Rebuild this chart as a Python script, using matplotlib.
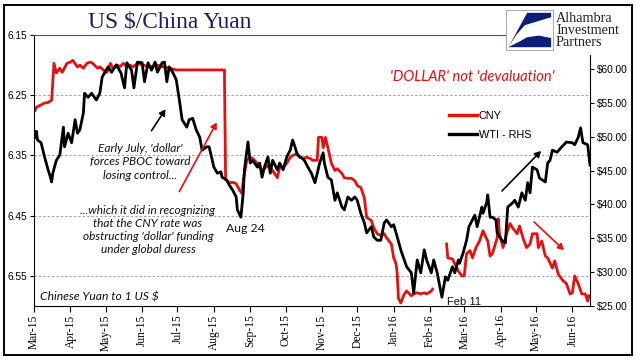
import numpy as np
import pandas as pd
import matplotlib
matplotlib.use("Agg")
import matplotlib.pyplot as plt
import matplotlib.dates as mdates
from matplotlib.patches import Rectangle, Polygon
from matplotlib.lines import Line2D

# ---------------- data ----------------
wti_dates = [
    "2015-03-02", "2015-03-03", "2015-03-04", "2015-03-07", "2015-03-10", "2015-03-13", "2015-03-15",
    "2015-03-16", "2015-03-17", "2015-03-20", "2015-03-23", "2015-03-26", "2015-03-27", "2015-03-30",
    "2015-04-02", "2015-04-05", "2015-04-07", "2015-04-09", "2015-04-12", "2015-04-13", "2015-04-16",
    "2015-04-19", "2015-04-23", "2015-04-26", "2015-04-28", "2015-04-30", "2015-05-03", "2015-05-06",
    "2015-05-10", "2015-05-14", "2015-05-17", "2015-05-19", "2015-05-23", "2015-05-25", "2015-05-28",
    "2015-06-01", "2015-06-03", "2015-06-06", "2015-06-09", "2015-06-12", "2015-06-14", "2015-06-18",
    "2015-06-20", "2015-06-22", "2015-06-24", "2015-06-27", "2015-06-30", "2015-07-03", "2015-07-05",
    "2015-07-09", "2015-07-11", "2015-07-14", "2015-07-17", "2015-07-20", "2015-07-22", "2015-07-26",
    "2015-07-28", "2015-07-30", "2015-08-01", "2015-08-04", "2015-08-07", "2015-08-08", "2015-08-12",
    "2015-08-14", "2015-08-17", "2015-08-20", "2015-08-21", "2015-08-24", "2015-08-26", "2015-08-27",
    "2015-08-30", "2015-09-01", "2015-09-03", "2015-09-07", "2015-09-09", "2015-09-11", "2015-09-13",
    "2015-09-16", "2015-09-18", "2015-09-20", "2015-09-24", "2015-09-26", "2015-09-29", "2015-10-02",
    "2015-10-05", "2015-10-07", "2015-10-09", "2015-10-11", "2015-10-15", "2015-10-17", "2015-10-20",
    "2015-10-23", "2015-10-26", "2015-10-28", "2015-10-30", "2015-11-02", "2015-11-03", "2015-11-06",
    "2015-11-09", "2015-11-12", "2015-11-14", "2015-11-18", "2015-11-20", "2015-11-23", "2015-11-26",
    "2015-11-29", "2015-12-01", "2015-12-04", "2015-12-07", "2015-12-09", "2015-12-13", "2015-12-15",
    "2015-12-18", "2015-12-21", "2015-12-24", "2015-12-26", "2015-12-30", "2016-01-01", "2016-01-04",
    "2016-01-07", "2016-01-10", "2016-01-12", "2016-01-16", "2016-01-18", "2016-01-21", "2016-01-24",
    "2016-01-27", "2016-01-29", "2016-02-02", "2016-02-04", "2016-02-07", "2016-02-11", "2016-02-14",
    "2016-02-16", "2016-02-20", "2016-02-22", "2016-02-25", "2016-02-26", "2016-02-29", "2016-03-03",
    "2016-03-05", "2016-03-08", "2016-03-10", "2016-03-12", "2016-03-16", "2016-03-17", "2016-03-20",
    "2016-03-21", "2016-03-23", "2016-03-25", "2016-03-28", "2016-03-29", "2016-04-02", "2016-04-05",
    "2016-04-07", "2016-04-11", "2016-04-13", "2016-04-16", "2016-04-19", "2016-04-22", "2016-04-24",
    "2016-04-26", "2016-04-28", "2016-05-02", "2016-05-04", "2016-05-09", "2016-05-11", "2016-05-13",
    "2016-05-15", "2016-05-19", "2016-05-23", "2016-05-27", "2016-06-01", "2016-06-03", "2016-06-06",
    "2016-06-08", "2016-06-10", "2016-06-14", "2016-06-16",
]
wti_values = [
    49.9, 50.8, 49.5, 49.1, 47.0, 45.1, 44.0,
    43.3, 44.6, 46.5, 47.3, 51.4, 48.5, 50.5,
    49.1, 52.5, 50.5, 51.0, 53.5, 56.4, 55.8,
    56.4, 55.4, 56.4, 58.8, 59.4, 60.3, 59.5,
    60.6, 59.4, 57.2, 60.9, 59.8, 57.2, 61.0,
    60.9, 58.1, 60.9, 59.8, 61.0, 59.5, 60.9,
    61.0, 58.1, 60.3, 59.5, 58.4, 55.0, 52.5,
    51.4, 52.5, 52.7, 51.0, 49.9, 48.0, 48.5,
    48.5, 47.0, 45.5, 44.6, 44.8, 44.0, 43.6,
    42.9, 42.1, 41.1, 39.2, 38.1, 41.7, 45.1,
    49.2, 46.1, 46.5, 45.5, 46.1, 44.0, 45.5,
    47.0, 44.6, 46.5, 45.1, 46.1, 45.1, 47.0,
    48.0, 49.5, 48.5, 47.3, 46.8, 46.5, 45.5,
    44.6, 43.2, 44.6, 46.1, 47.6, 46.1, 44.0,
    43.6, 40.6, 41.7, 39.6, 39.2, 41.1, 40.6,
    41.1, 40.6, 38.7, 37.3, 35.8, 36.7, 35.2,
    34.7, 34.7, 37.3, 37.7, 36.7, 37.0, 35.2,
    33.3, 31.8, 30.8, 29.9, 26.9, 31.8, 29.9,
    33.3, 31.8, 29.9, 31.8, 29.9, 26.3, 29.3,
    28.8, 30.8, 29.9, 31.8, 31.3, 32.8, 34.7,
    36.7, 37.7, 38.4, 36.7, 39.6, 38.7, 40.2,
    41.4, 38.1, 38.1, 37.7, 35.8, 34.7, 34.3,
    39.6, 40.2, 40.6, 39.6, 41.7, 40.6, 43.2,
    41.7, 45.5, 45.1, 43.9, 43.3, 46.1, 46.5,
    48.0, 47.7, 48.5, 49.2, 49.1, 48.8, 49.9,
    51.3, 49.1, 48.8, 45.8,
]

cny_dates = [
    "2015-03-02", "2015-03-03", "2015-03-06", "2015-03-10", "2015-03-13", "2015-03-16", "2015-03-18",
    "2015-03-20", "2015-03-23", "2015-03-25", "2015-03-29", "2015-04-01", "2015-04-03", "2015-04-07",
    "2015-04-09", "2015-04-12", "2015-04-15", "2015-04-18", "2015-04-20", "2015-04-24", "2015-04-26",
    "2015-04-29", "2015-05-02", "2015-05-05", "2015-05-07", "2015-05-11", "2015-05-13", "2015-05-16",
    "2015-05-19", "2015-05-22", "2015-05-24", "2015-05-28", "2015-06-02", "2015-06-08", "2015-06-14",
    "2015-06-19", "2015-06-24", "2015-06-30", "2015-07-15", "2015-08-10", "2015-08-11", "2015-08-14",
    "2015-08-18", "2015-08-20", "2015-08-23", "2015-08-25", "2015-08-26", "2015-08-29", "2015-09-01",
    "2015-09-03", "2015-09-07", "2015-09-09", "2015-09-12", "2015-09-15", "2015-09-18", "2015-09-20",
    "2015-09-24", "2015-09-26", "2015-09-29", "2015-10-02", "2015-10-05", "2015-10-07", "2015-10-11",
    "2015-10-13", "2015-10-16", "2015-10-19", "2015-10-22", "2015-10-24", "2015-10-28", "2015-10-29",
    "2015-11-01", "2015-11-02", "2015-11-04", "2015-11-06", "2015-11-09", "2015-11-12", "2015-11-14",
    "2015-11-18", "2015-11-20", "2015-11-23", "2015-11-26", "2015-11-29", "2015-12-01", "2015-12-04",
    "2015-12-07", "2015-12-09", "2015-12-13", "2015-12-15", "2015-12-18", "2015-12-21", "2015-12-24",
    "2015-12-26", "2015-12-30", "2016-01-01", "2016-01-03", "2016-01-04", "2016-01-05", "2016-01-07",
    "2016-01-10", "2016-01-12", "2016-01-16", "2016-01-18", "2016-01-21", "2016-01-24", "2016-01-27",
    "2016-01-29", "2016-02-02", "2016-02-03", "2016-02-09", "2016-02-15", "2016-02-16", "2016-02-20",
    "2016-02-22", "2016-02-25", "2016-02-28", "2016-03-01", "2016-03-03", "2016-03-06", "2016-03-08",
    "2016-03-11", "2016-03-14", "2016-03-17", "2016-03-18", "2016-03-21", "2016-03-23", "2016-03-25",
    "2016-03-29", "2016-03-30", "2016-03-31", "2016-04-03", "2016-04-06", "2016-04-09", "2016-04-11",
    "2016-04-15", "2016-04-17", "2016-04-20", "2016-04-23", "2016-04-26", "2016-04-28", "2016-05-02",
    "2016-05-03", "2016-05-06", "2016-05-09", "2016-05-11", "2016-05-15", "2016-05-17", "2016-05-20",
    "2016-05-24", "2016-05-27", "2016-05-30", "2016-06-01", "2016-06-03", "2016-06-06", "2016-06-09",
    "2016-06-12", "2016-06-14", "2016-06-15",
]
cny_values = [
    6.275, 6.270, 6.267, 6.263, 6.262, 6.258, 6.197,
    6.213, 6.205, 6.212, 6.197, 6.195, 6.192, 6.203,
    6.200, 6.205, 6.197, 6.195, 6.197, 6.205, 6.203,
    6.208, 6.212, 6.197, 6.205, 6.200, 6.203, 6.197,
    6.203, 6.200, 6.203, 6.197, 6.200, 6.203, 6.200,
    6.203, 6.205, 6.208, 6.208, 6.208, 6.390, 6.395,
    6.395, 6.397, 6.408, 6.413, 6.392, 6.358, 6.353,
    6.355, 6.363, 6.370, 6.375, 6.367, 6.372, 6.375,
    6.387, 6.370, 6.370, 6.363, 6.353, 6.350, 6.347,
    6.353, 6.355, 6.353, 6.355, 6.358, 6.358, 6.320,
    6.320, 6.337, 6.320, 6.337, 6.363, 6.375, 6.372,
    6.380, 6.387, 6.388, 6.388, 6.392, 6.400, 6.403,
    6.420, 6.453, 6.458, 6.470, 6.480, 6.483, 6.480,
    6.487, 6.497, 6.520, 6.530, 6.547, 6.587, 6.595,
    6.580, 6.575, 6.583, 6.580, 6.578, 6.580, 6.578,
    6.580, 6.575, 6.572, np.nan, 6.497, 6.520, 6.522,
    6.530, 6.542, 6.550, 6.550, 6.513, 6.508, 6.520,
    6.503, 6.492, 6.475, 6.480, 6.492, 6.517, 6.513,
    6.487, 6.455, 6.480, 6.503, 6.480, 6.463, 6.470,
    6.480, 6.467, 6.487, 6.503, 6.497, 6.480, 6.480,
    6.503, 6.492, 6.517, 6.520, 6.537, 6.525, 6.547,
    6.558, 6.563, 6.580, 6.578, 6.550, 6.563, 6.580,
    6.580, 6.592, 6.583,
]

cny_ticks = [6.15, 6.25, 6.35, 6.45, 6.55]
wti_ticks = [25, 30, 35, 40, 45, 50, 55, 60]
x_start, x_end = "2015-03-01", "2016-06-16"

wti_x = pd.to_datetime(wti_dates)
cny_x = pd.to_datetime(cny_dates)

# ---------------- figure ----------------
W, H = 641, 361
fig = plt.figure(figsize=(W / 100, H / 100), dpi=100)
fig.patch.set_facecolor("white")

def fx(px):
    return px / W

def fy(py):
    return 1 - py / H

ax_l, ax_r, ax_t, ax_b = 34, 590, 35, 306
ax = fig.add_axes([fx(ax_l), fy(ax_b), fx(ax_r - ax_l), (ax_b - ax_t) / H])
ax2 = ax.twinx()

RED = "#e8100f"
ax.plot(cny_x, cny_values, color=RED, lw=2.0, solid_joinstyle="round", label="CNY")
ax2.plot(wti_x, wti_values, color="black", lw=2.0, solid_joinstyle="round", label="WTI - RHS")

ax.set_xlim(pd.Timestamp(x_start), pd.Timestamp(x_end))
ax.set_ylim(6.60, 6.15)
ax2.set_ylim(25, 65)

ax.set_yticks(cny_ticks)
ax.set_yticklabels([f"{v:.2f}" for v in cny_ticks], fontsize=7.3, family="Liberation Sans")
ax2.set_yticks(wti_ticks)
ax2.set_yticklabels([f"${v:.2f}" for v in wti_ticks], fontsize=7.3, family="Liberation Sans")

ax.xaxis.set_major_locator(mdates.MonthLocator())
ax.xaxis.set_major_formatter(mdates.DateFormatter("%b-%y"))
for lab in ax.get_xticklabels():
    lab.set_rotation(90)
    lab.set_fontsize(8.3)
    lab.set_family("Liberation Serif")

ax.tick_params(axis="x", length=4, width=0.8, direction="out", pad=2)
ax.tick_params(axis="y", length=3, width=0.8, direction="out", pad=2)
ax2.tick_params(axis="y", length=3, width=0.8, direction="out", pad=2)

# grid lines at CNY ticks (dashed)
for v in cny_ticks[1:]:
    ax.axhline(v, color="#a0a0a0", lw=0.7, ls=(0, (2.5, 2)), zorder=0)

for a in (ax, ax2):
    a.spines["top"].set_visible(False)
    a.patch.set_visible(False)
ax2.spines["left"].set_visible(False)
ax.spines["right"].set_visible(False)
ax.spines["left"].set_linewidth(0.8)
ax.spines["bottom"].set_linewidth(0.8)
ax2.spines["bottom"].set_visible(False)
ax2.spines["right"].set_linewidth(0.8)
ax2.spines["right"].set_bounds(25, 62)

# partial top border line
fig.add_artist(Line2D([fx(ax_l), fx(505)], [fy(ax_t), fy(ax_t)], color="#555555", lw=0.8))

# outer frame
fig.add_artist(Rectangle((fx(4), fy(355)), fx(628), (355 - 5) / H, fill=False,
                         edgecolor="black", lw=1.4, transform=fig.transFigure))

# title
fig.text(fx(170), fy(22), "US $/China Yuan", ha="center", va="center", fontsize=16.8,
         family="Liberation Serif", color="#1c1c6b")

# logo
lx0, lx1, ly0, ly1 = 506, 553, 10, 50
fig.add_artist(Rectangle((fx(lx0), fy(ly1)), fx(lx1 - lx0), (ly1 - ly0) / H, fill=True,
                         facecolor="white", edgecolor="#999999", lw=0.6, transform=fig.transFigure))

def lp(u, v):
    return (fx(lx0 + u * (lx1 - lx0)), fy(ly1 - v * (ly1 - ly0)))

NAVY = "#0b1f7a"
fig.add_artist(Polygon([lp(0.45, 0.93), lp(0.96, 0.93), lp(0.96, 0.82), lp(0.40, 0.62),
                        lp(0.22, 0.38), lp(0.05, 0.07)], closed=True, facecolor=NAVY,
                       edgecolor="none", transform=fig.transFigure))
fig.add_artist(Polygon([lp(0.05, 0.07), lp(0.96, 0.07), lp(0.96, 0.30), lp(0.70, 0.36),
                        lp(0.45, 0.32), lp(0.30, 0.22)], closed=True, facecolor=NAVY,
                       edgecolor="none", transform=fig.transFigure))
for i, t in enumerate(["Alhambra", "Investment", "Partners"]):
    fig.text(fx(556), fy(18 + 12 * i), t, ha="left", va="center", fontsize=10.2,
             family="Liberation Serif", color="#222222")

# legend
h1, l1 = ax.get_legend_handles_labels()
h2, l2 = ax2.get_legend_handles_labels()
leg = fig.legend(h1 + h2, l1 + l2, loc="upper left", bbox_to_anchor=(fx(449), fy(111)),
                 frameon=False, handlelength=2.6, handletextpad=0.15,
                 labelspacing=0.85, borderpad=0, borderaxespad=0,
                 prop={"family": "Liberation Sans", "size": 7.8})
for line in leg.get_lines():
    line.set_linewidth(2.4)

# annotations
ITAL = dict(family="Lato", style="italic")
fig.text(fx(472), fy(77), "'DOLLAR' not 'devaluation'", ha="center", va="center",
         fontsize=10.6, color=RED, **ITAL)
fig.text(fx(140), fy(162), "Early July, 'dollar'\nforces PBOC toward\nlosing control...",
         ha="center", va="center", fontsize=8.6, color="#111111", linespacing=1.3, **ITAL)
fig.text(fx(148), fy(230), "...which it did in recognizing\nthat the CNY rate was\nobstructing 'dollar' funding\nunder global duress",
         ha="center", va="center", fontsize=8.5, color="#111111", linespacing=1.25, **ITAL)
fig.text(fx(245), fy(228), "Aug 24", ha="center", va="center", fontsize=8.8,
         family="Lato", color="#111111")
fig.text(fx(464), fy(302), "Feb 11", ha="center", va="center", fontsize=8,
         family="Liberation Sans", color="#111111")
fig.text(fx(40), fy(297), "Chinese Yuan to 1 US $", ha="left", va="center", fontsize=8.7,
         color="#111111", **ITAL)

def arrow(p0, p1, color):
    fig.add_artist(matplotlib.patches.FancyArrowPatch(
        (fx(p0[0]), fy(p0[1])), (fx(p1[0]), fy(p1[1])), transform=fig.transFigure,
        arrowstyle="-|>,head_length=3.5,head_width=2", color=color, lw=1.2))

arrow((150, 133), (167, 107), "black")
arrow((178, 194), (218, 120), RED)
arrow((500, 193), (543, 149), "black")
arrow((532, 220), (566, 252), RED)

fig.savefig("out.png", dpi=100, facecolor="white")
